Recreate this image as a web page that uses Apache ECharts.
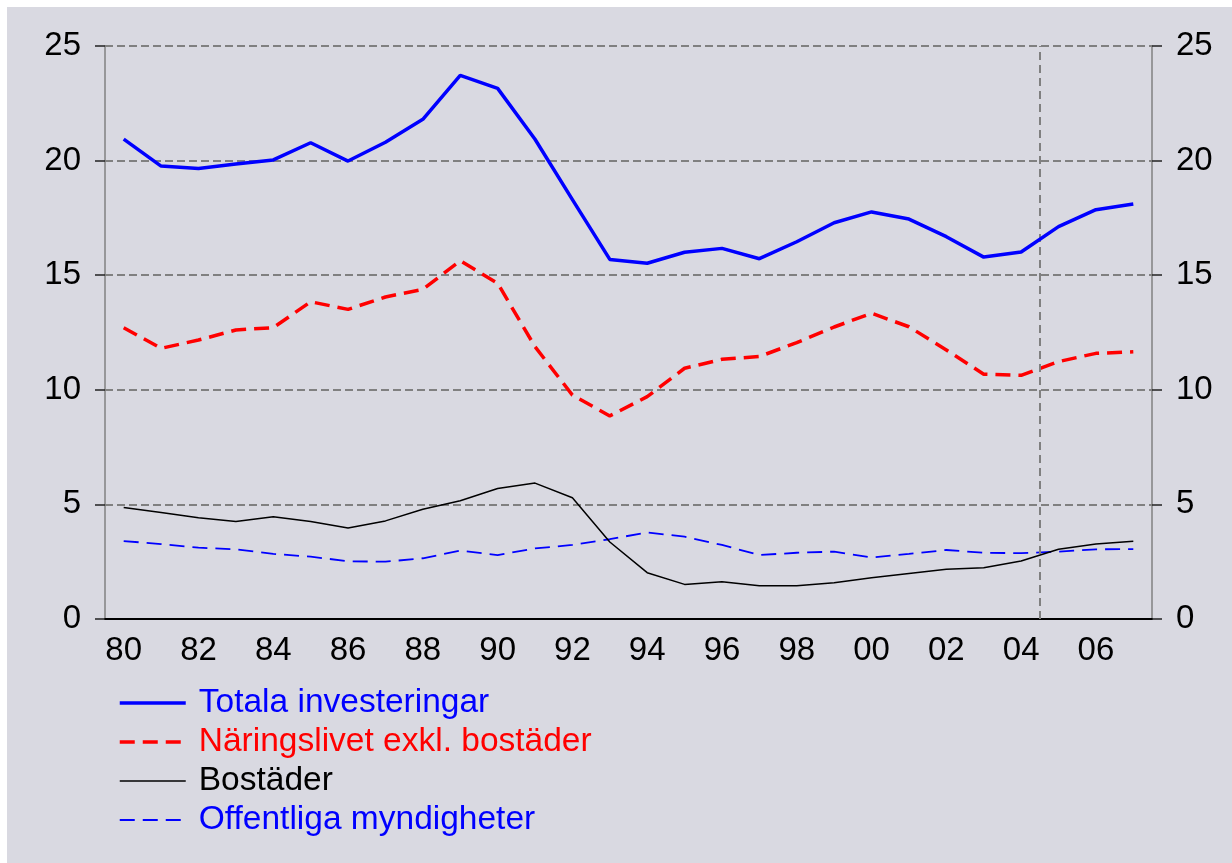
<!DOCTYPE html>
<html>
<head>
<meta charset="utf-8">
<script src="https://cdn.jsdelivr.net/npm/echarts@6/dist/echarts.min.js"></script>
<style>
  html, body { margin: 0; padding: 0; background: #fff; }
  #chart { position: absolute; left: 7px; top: 7px; width: 1225px; height: 856px; }
</style>
</head>
<body>
<div id="chart"></div>
<script>
// år 1980-2007
var years = ['80','81','82','83','84','85','86','87','88','89','90','91','92','93','94','95','96','97','98','99','00','01','02','03','04','05','06','07'];

var totala = [20.94,19.76,19.66,19.85,20.03,20.78,19.98,20.8,21.8,23.72,23.15,20.93,18.3,15.69,15.52,16.0,16.17,15.72,16.46,17.29,17.76,17.45,16.68,15.79,16.01,17.12,17.86,18.11];
var naringsliv = [12.71,11.81,12.17,12.61,12.71,13.84,13.51,14.05,14.38,15.63,14.65,11.88,9.77,8.86,9.7,10.94,11.33,11.45,12.06,12.74,13.34,12.75,11.74,10.68,10.63,11.23,11.59,11.66];
var bostader = [4.86,4.65,4.42,4.25,4.46,4.25,3.97,4.28,4.79,5.16,5.69,5.93,5.29,3.36,2.02,1.51,1.63,1.45,1.45,1.58,1.8,1.99,2.17,2.24,2.53,3.04,3.27,3.39];
var offentliga = [3.4,3.27,3.11,3.04,2.84,2.72,2.52,2.5,2.65,2.98,2.79,3.08,3.23,3.48,3.78,3.59,3.23,2.79,2.89,2.94,2.68,2.84,3.01,2.89,2.87,2.94,3.04,3.05];

var yTicks = [0, 5, 10, 15, 20, 25];
var prognosStart = 25; // gräns mellan 04 och 05 (räknat i år från 80)

var myChart = echarts.init(document.getElementById('chart'));

var yAxisBase = function(pos, grid){
	return {
		type: 'value', position: pos, min: yTicks[0], max: yTicks[yTicks.length-1], interval: 5,
		axisLine: {show: true, lineStyle: {color: '#808080', width: 1.5}},
		axisTick: {show: true, length: 10, lineStyle: {color: '#222', width: 1.5}},
		axisLabel: {fontFamily: 'Liberation Sans', fontSize: 33, color: '#000', margin: 24},
		splitLine: {show: grid, lineStyle: {color: '#808080', width: 2, type: [8,4]}}
	};
};

option = {
	backgroundColor: '#d9d9e1',
	animation: false,
	grid: {left: 98, right: 80, top: 39, bottom: 244},
	legend: {
		orient: 'vertical', left: 111, top: 679, padding: 0,
		itemWidth: 66, itemHeight: 14, itemGap: 5,
		textStyle: {fontFamily: 'Liberation Sans', fontSize: 33.5, lineHeight: 34, padding: [0,0,0,8]},
		itemStyle: {opacity: 0},
		lineStyle: {width: 'inherit'},
		data: [
			{name: 'Totala investeringar', textStyle: {color: '#0000ff'}},
			{name: 'Näringslivet exkl. bostäder', textStyle: {color: '#ff0000'}},
			{name: 'Bostäder', textStyle: {color: '#000000'}},
			{name: 'Offentliga myndigheter', textStyle: {color: '#0000ff'}}
		]
	},
	xAxis: [{
		type: 'category', data: years, boundaryGap: true,
		axisLine: {lineStyle: {color: '#000', width: 2}},
		axisTick: {interval: 0, length: 11, lineStyle: {color: '#000', width: 1.5}},
		axisLabel: {interval: 1, fontFamily: 'Liberation Sans', fontSize: 33, color: '#000', margin: 15},
		splitLine: {show: false}
	}, {
		// osynlig hjälpaxel för den lodräta prognoslinjen
		type: 'value', min: 0, max: years.length, show: false
	}],
	yAxis: [yAxisBase('left', true), yAxisBase('right', false)],
	series: [
		{name: 'Totala investeringar', type: 'line', data: totala, symbol: 'none', lineStyle: {color: '#0000ff', width: 3.5}, itemStyle: {color: '#0000ff'}, z: 5},
		{name: 'Näringslivet exkl. bostäder', type: 'line', data: naringsliv, symbol: 'none', lineStyle: {color: '#ff0000', width: 3.5, type: [15,8]}, itemStyle: {color: '#ff0000'}, z: 4},
		{name: 'Bostäder', type: 'line', data: bostader, symbol: 'none', lineStyle: {color: '#000000', width: 1.5}, itemStyle: {color: '#000000'}, z: 3},
		{name: 'Offentliga myndigheter', type: 'line', data: offentliga, symbol: 'none', lineStyle: {color: '#0000ff', width: 1.8, type: [15,8]}, itemStyle: {color: '#0000ff'}, z: 2},
		{name: 'prognos', type: 'line', xAxisIndex: 1, data: [[prognosStart, 0]], symbol: 'none', silent: true, z: 1,
			markLine: {silent: true, symbol: 'none', label: {show: false},
				lineStyle: {color: '#808080', width: 2, type: [8,5]},
				data: [{xAxis: prognosStart}]}}
	]
};
myChart.setOption(option);
</script>
</body>
</html>
